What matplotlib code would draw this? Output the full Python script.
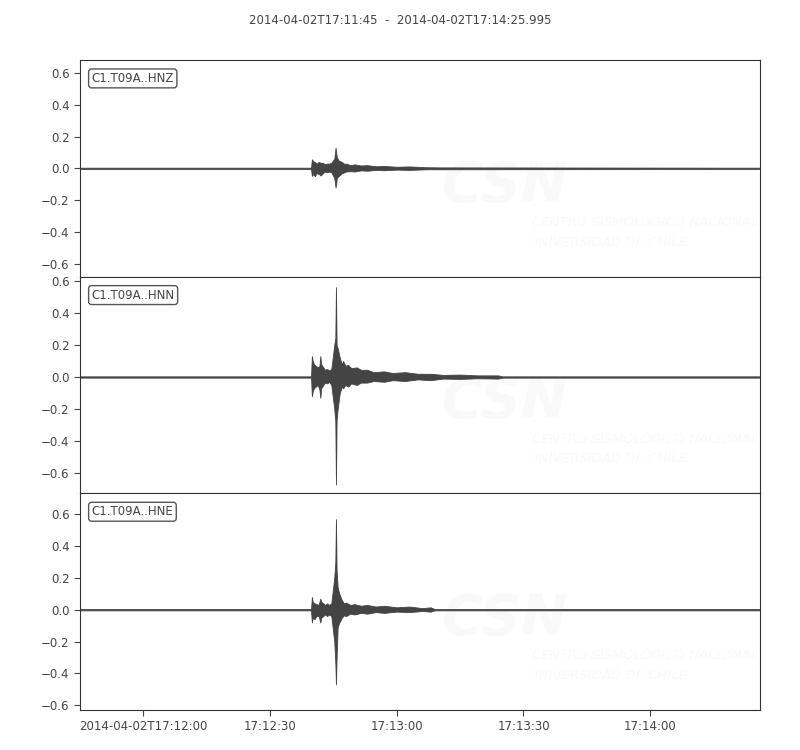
import matplotlib
matplotlib.use("Agg")
import matplotlib.pyplot as plt

# seconds after 2014-04-02T17:11:45, envelope
t_hnz = [0, 54.7, 54.9, 55.2, 55.6, 56.0, 56.5, 57.0, 57.5, 58.0, 58.5, 59.0, 59.5, 60.2, 60.5, 60.65, 60.8, 61.2,
         62, 62.6, 63, 64, 65, 66.5, 68, 70, 72, 75, 78, 82, 85, 161]
up_hnz = [.004, .004, .057, .045, .04, .03, .04, .035, .035, .025, .03, .03, .035, .06, .13, .10, .07, .05,
          .04, .028, .03, .02, .025, .018, .02, .013, .015, .01, .012, .007, .006, .004]
lo_hnz = [-.004, -.004, -.048, -.035, -.05, -.03, -.035, -.045, -.03, -.02, -.025, -.02, -.025, -.06, -.12, -.10, -.06, -.05,
          -.03, -.025, -.02, -.018, -.02, -.013, -.015, -.01, -.012, -.008, -.01, -.006, -.006, -.004]

t_hnn = [0, 54.7, 54.9, 55.1, 55.4, 55.8, 56.3, 56.7, 56.9, 57.1, 57.6, 58.0, 58.5, 59.0, 59.5, 60.2, 60.45, 60.6, 60.75,
         61.0, 61.5, 62.0, 62.3, 62.8, 63.5, 64.2, 65.5, 66.5, 68, 69.5, 72, 74, 77, 80, 83, 86, 90, 94, 99, 100, 161]
up_hnn = [.004, .004, .13, .10, .08, .07, .06, .07, .13, .08, .06, .045, .05, .04, .05, .20, .24, .56, .20,
          .18, .12, .08, .10, .07, .075, .055, .06, .045, .045, .03, .035, .025, .03, .02, .02, .013, .015, .01, .01, .004, .004]
lo_hnn = [-.004, -.004, -.12, -.09, -.07, -.06, -.05, -.08, -.13, -.07, -.05, -.035, -.04, -.03, -.05, -.20, -.275, -.67, -.27,
          -.20, -.10, -.06, -.07, -.05, -.06, -.04, -.05, -.035, -.035, -.025, -.03, -.02, -.025, -.015, -.02, -.01, -.012, -.008, -.01, -.004, -.004]

t_hne = [0, 54.7, 54.9, 55.1, 55.5, 56.0, 56.5, 56.9, 57.1, 57.6, 58.0, 58.5, 59.0, 59.5, 60.2, 60.45, 60.6, 60.75,
         61.0, 61.4, 62.0, 62.5, 63, 64, 65, 66.5, 68, 70, 72, 75, 78, 81, 83, 84, 161]
up_hne = [.004, .004, .08, .05, .04, .035, .03, .07, .05, .04, .03, .04, .03, .04, .20, .30, .57, .25,
          .14, .10, .06, .04, .045, .03, .035, .025, .03, .02, .025, .015, .02, .01, .015, .004, .004]
lo_hne = [-.004, -.004, -.08, -.05, -.06, -.04, -.04, -.08, -.05, -.04, -.03, -.04, -.03, -.04, -.20, -.33, -.47, -.30,
          -.11, -.08, -.05, -.035, -.04, -.025, -.03, -.02, -.025, -.015, -.02, -.012, -.015, -.008, -.012, -.004, -.004]

labels = ["C1.T09A..HNZ", "C1.T09A..HNN", "C1.T09A..HNE"]
ylims = [(-0.682, 0.682), (-0.725, 0.625), (-0.631, 0.732)]
xtick_pos = [15, 45, 75, 105, 135]
xtick_lab = ["2014-04-02T17:12:00", "17:12:30", "17:13:00", "17:13:30", "17:14:00"]
yticks = [-0.6, -0.4, -0.2, 0.0, 0.2, 0.4, 0.6]

traces = [(t_hnz, up_hnz, lo_hnz), (t_hnn, up_hnn, lo_hnn), (t_hne, up_hne, lo_hne)]

txt = "#444444"
fig = plt.figure(figsize=(8, 7.5), dpi=100)
fig.text(0.5, 0.973, "2014-04-02T17:11:45  -  2014-04-02T17:14:25.995",
         ha="center", va="center", fontsize=8.5, color=txt)

left, right, top, bottom = 0.1, 0.95, 0.92, 0.0533
h = (top - bottom) / 3
for i, (t, up, lo) in enumerate(traces):
    ax = fig.add_axes([left, top - (i + 1) * h, right - left, h])
    # faint CSN watermark
    ax.text(0.625, 0.42, "CSN", transform=ax.transAxes, ha="center", va="center",
            fontsize=40, fontweight="bold", style="italic", color="#f9f9f9", zorder=0, clip_on=True)
    ax.text(0.665, 0.25, "CENTRO SISMOLÓGICO NACIONAL", transform=ax.transAxes,
            ha="left", va="center", fontsize=9.5, style="italic", color="#f9f9f9", zorder=0, clip_on=True)
    ax.text(0.66, 0.16, "UNIVERSIDAD DE CHILE", transform=ax.transAxes,
            ha="left", va="center", fontsize=9.5, style="italic", color="#f9f9f9", zorder=0, clip_on=True)

    ax.fill_between(t, lo, up, color="#444444", edgecolor="#444444", linewidth=0.6, zorder=2)
    ax.set_xlim(0, 160.995)
    ax.set_ylim(*ylims[i])
    ax.set_yticks(yticks)
    ax.set_yticklabels([f"{v:.1f}".replace("-", "\u2212") for v in yticks])
    ax.tick_params(axis="y", colors=txt, labelsize=8.5, length=4)
    for s in ax.spines.values():
        s.set_color("#333333")
    if i < 2:
        ax.set_xticks([])
    else:
        ax.set_xticks(xtick_pos)
        ax.set_xticklabels(xtick_lab)
        ax.tick_params(axis="x", colors=txt, labelsize=8.5, length=4)
    ax.text(0.017, 0.945, labels[i], transform=ax.transAxes, ha="left", va="top",
            fontsize=8.5, color=txt, zorder=5,
            bbox=dict(boxstyle="round,pad=0.25", facecolor="white", edgecolor="#555555"))

fig.savefig("out.png", dpi=100)
